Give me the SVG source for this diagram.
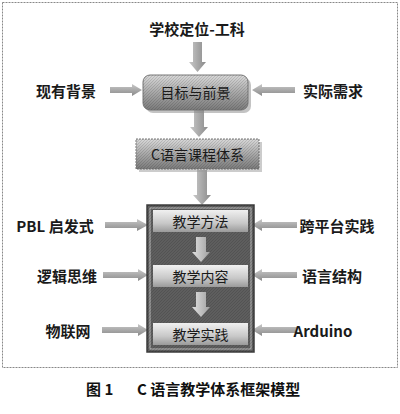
<svg xmlns="http://www.w3.org/2000/svg" width="400" height="414" viewBox="0 0 400 414">
<defs>
<linearGradient id="gBox" x1="0" y1="0" x2="0" y2="1">
<stop offset="0" stop-color="#d8d8d8"/><stop offset="0.5" stop-color="#a8a8a8"/><stop offset="1" stop-color="#7a7a7a"/>
</linearGradient>
<linearGradient id="gInner" x1="0" y1="0" x2="0" y2="1">
<stop offset="0" stop-color="#f0f0f0"/><stop offset="0.6" stop-color="#c8c8c8"/><stop offset="1" stop-color="#9a9a9a"/>
</linearGradient>
<linearGradient id="gArrowH" x1="0" y1="0" x2="0" y2="1">
<stop offset="0" stop-color="#c8c8c8"/><stop offset="1" stop-color="#8a8a8a"/>
</linearGradient>
<linearGradient id="gArrowV" x1="0" y1="0" x2="1" y2="0">
<stop offset="0" stop-color="#c8c8c8"/><stop offset="1" stop-color="#8a8a8a"/>
</linearGradient>
<linearGradient id="gArrowIn" x1="0" y1="0" x2="1" y2="0">
<stop offset="0" stop-color="#e0e0e0"/><stop offset="1" stop-color="#a0a0a0"/>
</linearGradient>
<pattern id="hatch" width="3" height="3" patternUnits="userSpaceOnUse">
<path d="M0,3 L3,0" stroke="#000" stroke-opacity="0.12" stroke-width="1"/>
</pattern>
</defs>
<style>
.lbl{font-family:"Noto Sans CJK SC","Liberation Sans",sans-serif;font-size:15px;font-weight:bold;fill:#1a1a1a;text-anchor:middle;dominant-baseline:central}
.box{font-family:"Noto Sans CJK SC","Liberation Sans",sans-serif;font-size:14px;fill:#1a1a1a;text-anchor:middle;dominant-baseline:central}
.cap{font-family:"Noto Sans CJK SC","Liberation Serif",serif;font-size:15px;font-weight:bold;fill:#111;dominant-baseline:central}
.ah{fill:url(#gArrowH)}
.av{fill:url(#gArrowV)}
.ai{fill:url(#gArrowIn)}
</style>
<rect x="2.5" y="2.5" width="395" height="365" fill="#fff" stroke="#888" stroke-width="1" stroke-dasharray="2,1"/>

<g id="connectors">
<path class="av" d="M193,42 H202 V62 H206 L197.5,72 L189,62 H193 Z"/>
<path class="ah" d="M110,87 H132 V84 L142,90 L132,96 V93 H110 Z"/>
<path class="ah" d="M295,87 H262 V84 L252,90 L262,96 V93 H295 Z"/>
<path class="av" d="M194,110 H204 V127 H208 L199,137 L190,127 H194 Z"/>
<path class="av" d="M197,170 H207 V195 H211 L202,205 L193,195 H197 Z"/>
<path class="ah" d="M105,222 H137 V219 L148,225 L137,231 V228 H105 Z"/>
<path class="ah" d="M297,222 H262 V219 L252,225 L262,231 V228 H297 Z"/>
<path class="ah" d="M103,272 H138 V269 L148,275 L138,281 V278 H103 Z"/>
<path class="ah" d="M297,272 H262 V269 L252,275 L262,281 V278 H297 Z"/>
<path class="ah" d="M102,327 H138 V324 L148,330 L138,336 V333 H102 Z"/>
<path class="ah" d="M297,327 H262 V324 L252,330 L262,336 V333 H297 Z"/>
</g>

<g id="title"><text class="lbl" x="197" y="28">学校定位-工科</text></g>
<g id="left1"><text class="lbl" x="66" y="90">现有背景</text></g>
<g id="right1"><text class="lbl" x="333" y="90">实际需求</text></g>

<g id="goal">
<rect x="146" y="78" width="105" height="35" rx="7" fill="#888" opacity="0.5"/>
<rect x="143" y="75" width="105" height="35" rx="7" fill="url(#gBox)" stroke="#777" stroke-width="1"/>
<rect x="143" y="75" width="105" height="35" rx="7" fill="url(#hatch)"/>
<text class="box" x="195.5" y="92">目标与前景</text>
</g>

<g id="course">
<rect x="139" y="142" width="123" height="30" fill="#999" opacity="0.5"/>
<rect x="136" y="139" width="123" height="30" fill="url(#gBox)" stroke="#777" stroke-width="1" stroke-dasharray="2,1"/>
<rect x="136" y="139" width="123" height="30" fill="url(#hatch)"/>
<text class="box" x="197.5" y="154">C语言课程体系</text>
</g>

<g id="frame">
<rect x="147" y="205" width="107" height="147" fill="#5e5e5e" stroke="#3c3c3c" stroke-width="1.5"/>
<rect x="150" y="208" width="101" height="141" fill="none" stroke="#bbb" stroke-width="1"/>
<rect x="147" y="205" width="107" height="147" fill="url(#hatch)"/>
<path class="ai" d="M196,237 H206 V252 H210 L201,262 L192,252 H196 Z"/>
<path class="ai" d="M196,292 H206 V307 H210 L201,317 L192,307 H196 Z"/>
</g>

<g id="method">
<rect x="153" y="210" width="95" height="22" fill="url(#gInner)"/>
<text class="box" x="200.5" y="221">教学方法</text>
</g>
<g id="content">
<rect x="153" y="265" width="95" height="22" fill="url(#gInner)"/>
<text class="box" x="200.5" y="276">教学内容</text>
</g>
<g id="practice">
<rect x="153" y="323" width="95" height="22" fill="url(#gInner)"/>
<text class="box" x="200.5" y="334">教学实践</text>
</g>

<g id="pbl"><text class="lbl" x="55" y="225">PBL 启发式</text></g>
<g id="cross"><text class="lbl" x="337" y="225">跨平台实践</text></g>
<g id="logic"><text class="lbl" x="67" y="275">逻辑思维</text></g>
<g id="langstruct"><text class="lbl" x="332" y="275">语言结构</text></g>
<g id="iot"><text class="lbl" x="68" y="330">物联网</text></g>
<g id="arduino"><text class="lbl" x="323" y="330">Arduino</text></g>

<g id="caption"><text class="cap" x="86" y="388">图 1<tspan x="137">C 语言教学体系框架模型</tspan></text></g>
</svg>
